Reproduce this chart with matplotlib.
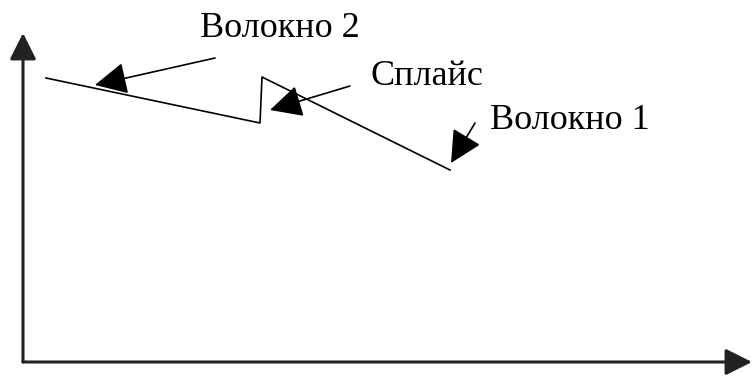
import matplotlib.pyplot as plt

# trace of the signal (pixel-like units, y grows downward)
trace_x = [46, 260, 262, 450]
trace_y = [78, 123, 77, 170]

# axis extents
origin = (23, 362)
x_end = (752, 362)
y_end = (23, 33)

# annotations: label, text baseline position, arrow tail, arrow tip
labels = ['Волокно 2', 'Сплайс', 'Волокно 1']
text_pos = [(200, 37), (370, 85), (490, 129)]
tails = [(215, 58), (350, 86), (475, 123)]
tips = [(95, 85), (270, 110), (451, 163)]

fig = plt.figure(figsize=(7.52, 3.76), dpi=100)
ax = fig.add_axes([0, 0, 1, 1])
ax.set_xlim(0, 752)
ax.set_ylim(376, 0)
ax.axis('off')

axis_arrow = dict(arrowstyle='-|>,head_length=0.9,head_width=0.45', color='#222222',
                  lw=2.2, mutation_scale=18, shrinkA=0, shrinkB=0)
ax.annotate('', xy=x_end, xytext=origin, arrowprops=axis_arrow)
ax.annotate('', xy=y_end, xytext=origin, arrowprops=axis_arrow)

ax.plot(trace_x, trace_y, color='black', lw=1.2)

for lab, tp, tail, tip in zip(labels, text_pos, tails, tips):
    ax.text(tp[0], tp[1], lab, fontsize=26, family='Liberation Serif',
            va='baseline', ha='left')
    ax.annotate('', xy=tip, xytext=tail,
                arrowprops=dict(arrowstyle='-|>,head_length=1.0,head_width=0.5',
                                color='black', lw=1.2, mutation_scale=20,
                                shrinkA=0, shrinkB=0))

fig.savefig('out.png', dpi=100)
